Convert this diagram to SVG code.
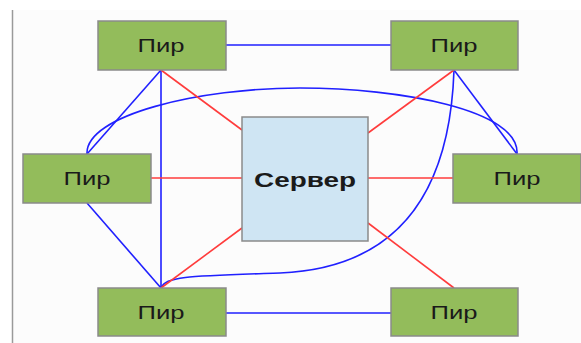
<svg xmlns="http://www.w3.org/2000/svg" width="581" height="343" viewBox="0 0 581 343">
<style>
.peer rect{fill:#93bc5b;stroke:#8a8a8a;stroke-width:1.5}
.srv rect{fill:#cfe5f3;stroke:#8a8a8a;stroke-width:1.5}
text{font-family:"Liberation Sans","DejaVu Sans",sans-serif;fill:#1a1a1a;text-anchor:middle}
.peer text{font-size:19px}
.srv text{font-size:20px;font-weight:bold}
.b{stroke:#2020ff;stroke-width:1.6;fill:none}
.r{stroke:#ff3c3c;stroke-width:1.6;fill:none}
</style>
<rect x="0" y="0" width="581" height="343" fill="#ffffff"/>
<rect x="12" y="10" width="569" height="333" fill="#fcfcfc"/>
<line x1="12.5" y1="10" x2="12.5" y2="343" stroke="#9a9a9a" stroke-width="1.5"/>
<g id="connectors">
<line class="b" x1="226" y1="45" x2="391" y2="45"/>
<line class="b" x1="226" y1="313" x2="391" y2="313"/>
<line class="b" x1="161" y1="70" x2="161" y2="288"/>
<line class="b" x1="161" y1="70" x2="87" y2="154"/>
<line class="b" x1="87" y1="203" x2="161" y2="288"/>
<line class="b" x1="454" y1="70" x2="517" y2="154"/>
<path class="b" d="M87,154 C85,115 200,88 300,88 C400,88 520,110 517,154"/>
<path class="b" d="M161,288 C166,276 190,276 280,273 C400,268 450,190 454,70"/>
<line class="r" x1="161" y1="70" x2="242" y2="130"/>
<line class="r" x1="151" y1="178" x2="242" y2="178"/>
<line class="r" x1="161" y1="288" x2="242" y2="228"/>
<line class="r" x1="454" y1="70" x2="368" y2="133"/>
<line class="r" x1="368" y1="178" x2="453" y2="178"/>
<line class="r" x1="368" y1="223" x2="454" y2="288"/>
</g>
<g id="server" class="srv"><rect x="242" y="117" width="126" height="124"/><text x="305" y="187" textLength="102" lengthAdjust="spacingAndGlyphs">Сервер</text></g>
<g id="peer-tl" class="peer"><rect x="98" y="21" width="128" height="49"/><text x="161" y="51.5" textLength="47" lengthAdjust="spacingAndGlyphs">Пир</text></g>
<g id="peer-tr" class="peer"><rect x="391" y="21" width="127" height="49"/><text x="454" y="51.5" textLength="47" lengthAdjust="spacingAndGlyphs">Пир</text></g>
<g id="peer-ml" class="peer"><rect x="23" y="154" width="128" height="49"/><text x="87" y="184.5" textLength="47" lengthAdjust="spacingAndGlyphs">Пир</text></g>
<g id="peer-mr" class="peer"><rect x="453" y="154" width="128" height="49"/><text x="517" y="184.5" textLength="47" lengthAdjust="spacingAndGlyphs">Пир</text></g>
<g id="peer-bl" class="peer"><rect x="98" y="288" width="128" height="48"/><text x="161" y="318.5" textLength="47" lengthAdjust="spacingAndGlyphs">Пир</text></g>
<g id="peer-br" class="peer"><rect x="391" y="288" width="127" height="48"/><text x="454" y="318.5" textLength="47" lengthAdjust="spacingAndGlyphs">Пир</text></g>
</svg>
